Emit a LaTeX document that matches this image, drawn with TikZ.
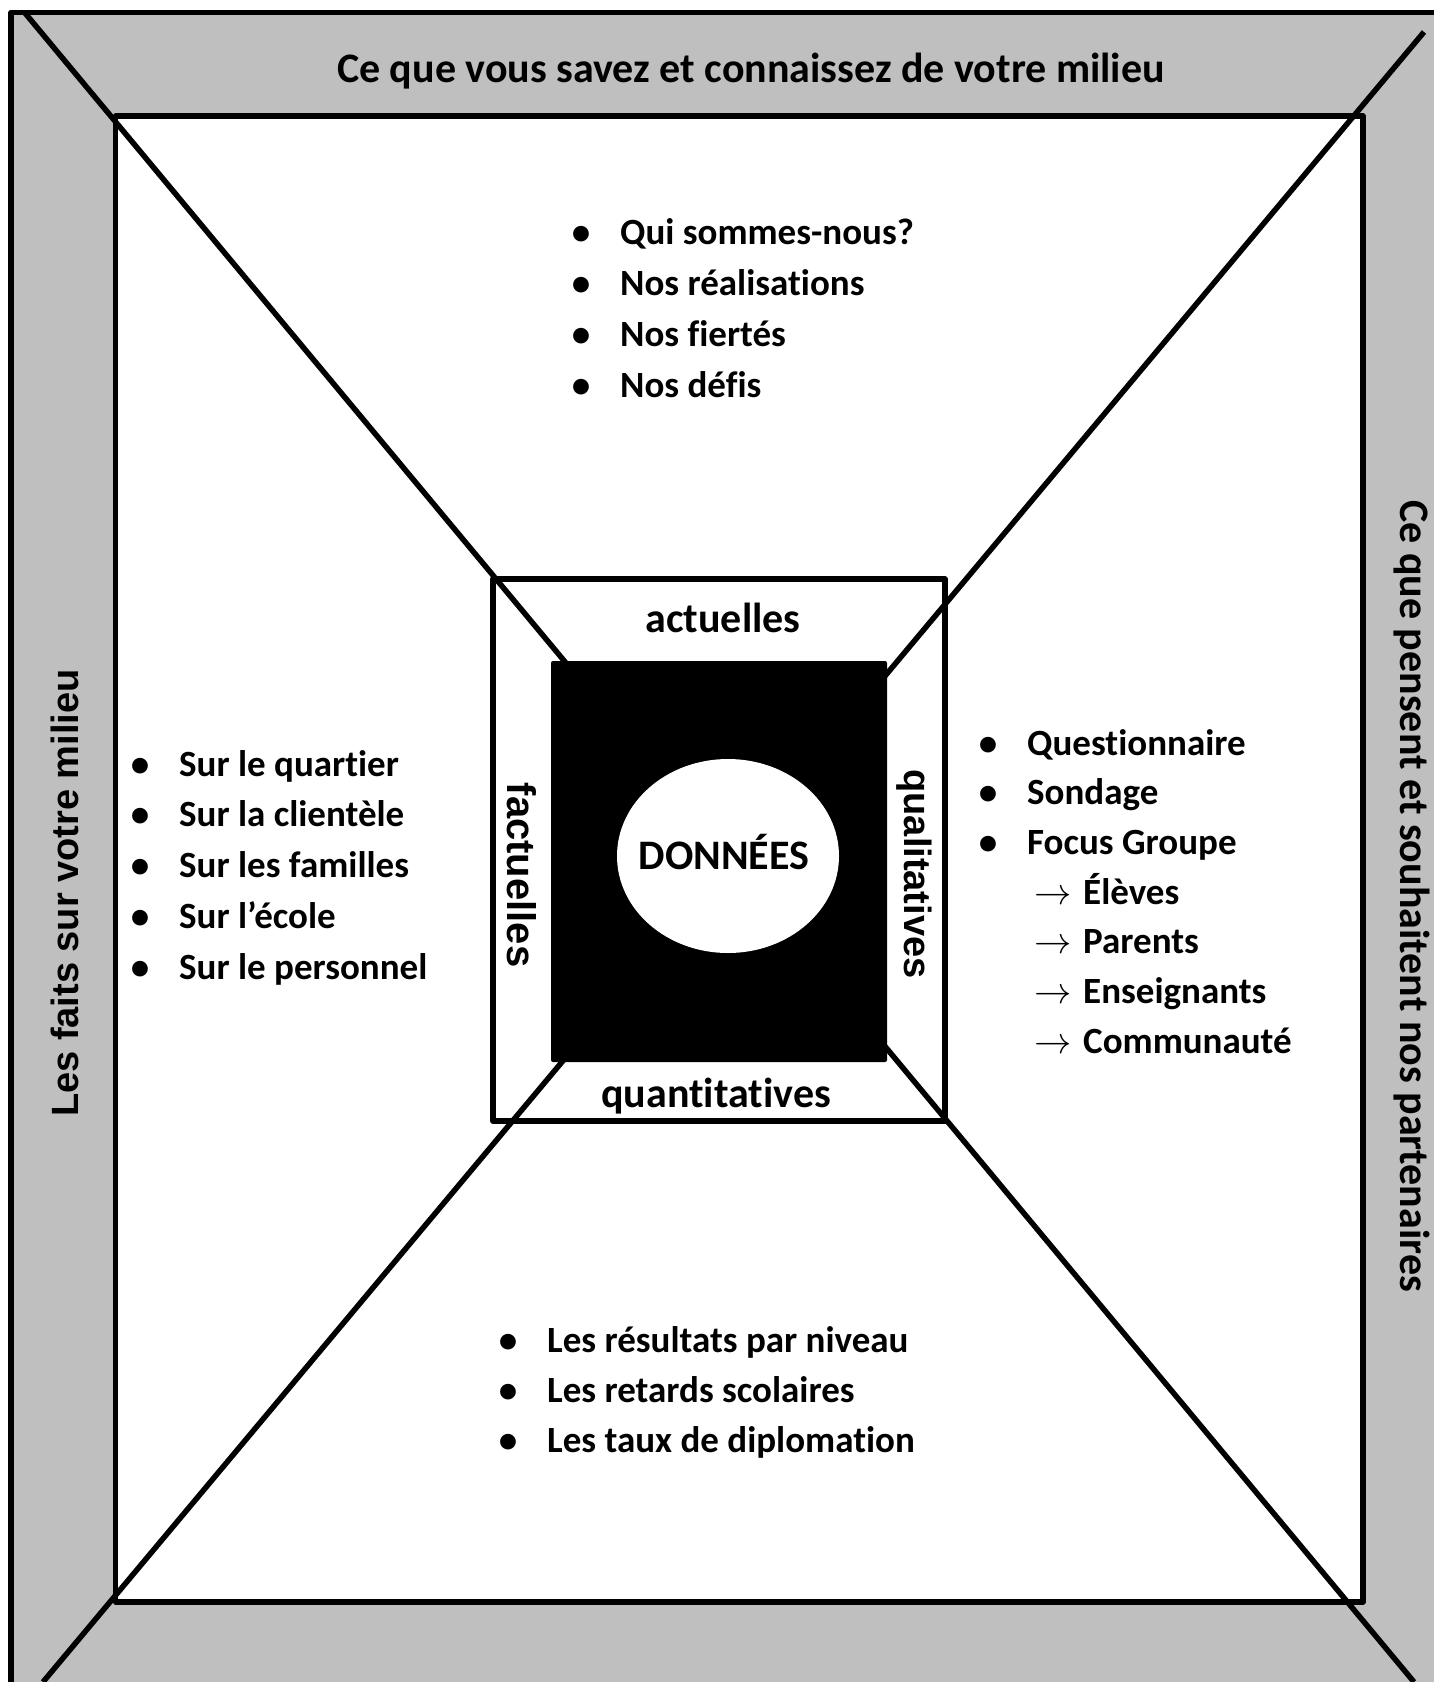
\documentclass[tikz,border=0pt]{standalone}
\usepackage{fontspec}
\setmainfont{Carlito}[Ligatures=NoCommon, RawFeature={-liga;-clig;-calt}]
\newfontfamily\arial{Liberation Sans}
\tikzset{
  cadre/.style={line width=5.5pt, line join=round},
  item/.style={anchor=base west, inner sep=0pt, font=\fontsize{37}{44}\selectfont\bfseries},
  titre/.style={anchor=base, inner sep=0pt, font=\fontsize{42}{50}\selectfont\bfseries},
  cote/.style={anchor=base, inner sep=0pt, font=\arial\fontsize{38}{46}\selectfont\bfseries},
}
\newcommand{\puce}{\makebox[0pt]{\textbullet}\hspace{39pt}}
\newcommand{\fleche}{\hspace{46pt}\makebox[49pt][l]{\scalebox{1.5}{$\rightarrow$}}}

\begin{document}
\begin{tikzpicture}[x=1pt,y=-1pt]
  \useasboundingbox (0,0) rectangle (1434,1682);
  % bandes grises
  \fill[black!25] (11,12.5) rectangle (1434,1682);
  \draw[cadre] (11,1682) -- (11,12.5) -- (1434,12.5);
  % cadre blanc
  \draw[cadre, fill=white] (115.5,116) rectangle (1363,1602);
  % diagonales
  \draw[cadre] (25,13) -- (1414,1682);
  \draw[cadre] (1424,32) -- (43,1682);
  % cadre central
  \draw[cadre] (493,579) rectangle (945,1121);
  \fill[rounded corners=2pt] (551,661) rectangle (887,1062);
  \fill[white] (728,856) ellipse [x radius=111, y radius=97];
  % titres des bandes
  \node[titre] (titre-haut) at (751,82) {Ce que vous savez et connaissez de votre milieu};
  \node[titre, rotate=-90] (titre-droite) at (1400,896) {Ce que pensent et souhaitent nos partenaires};
  \node[cote, rotate=90] (titre-gauche) at (78,893) {Les faits sur votre milieu};
  % centre
  \node[titre] (actuelles) at (723,632) {actuelles};
  \node[titre] (quantitatives) at (716,1107) {quantitatives};
  \node[cote, rotate=-90, font=\arial\fontsize{40}{46}\selectfont\bfseries] (factuelles) at (507,875) {factuelles};
  \node[cote, rotate=-90] (qualitatives) at (904,874) {qualitatives};
  \node[titre] (donnees) at (724,869) {DONNÉES};
  % listes
  \foreach \txt [count=\i] in {Qui sommes-nous?, Nos réalisations, Nos fiertés, Nos défis}
    {\node[item] (haut\i) at (581,{244+51*(\i-1)}) {\puce\txt};}
  \foreach \txt [count=\i] in {Sur le quartier, Sur la clientèle, Sur les familles, Sur l’école, Sur le personnel}
    {\node[item] (gauche\i) at (140,{776+50.75*(\i-1)}) {\puce\txt};}
  \foreach \txt [count=\i] in {Questionnaire, Sondage, Focus Groupe}
    {\node[item] (droite\i) at (988,{755+49.7*(\i-1)}) {\puce\txt};}
  \foreach \txt [count=\i] in {Élèves, Parents, Enseignants, Communauté}
    {\node[item] (groupe\i) at (988,{904+49.7*(\i-1)}) {\fleche\txt};}
  \foreach \txt [count=\i] in {Les résultats par niveau, Les retards scolaires, Les taux de diplomation}
    {\node[item] (bas\i) at (508,{1352+50*(\i-1)}) {\puce\txt};}
\end{tikzpicture}
\end{document}
